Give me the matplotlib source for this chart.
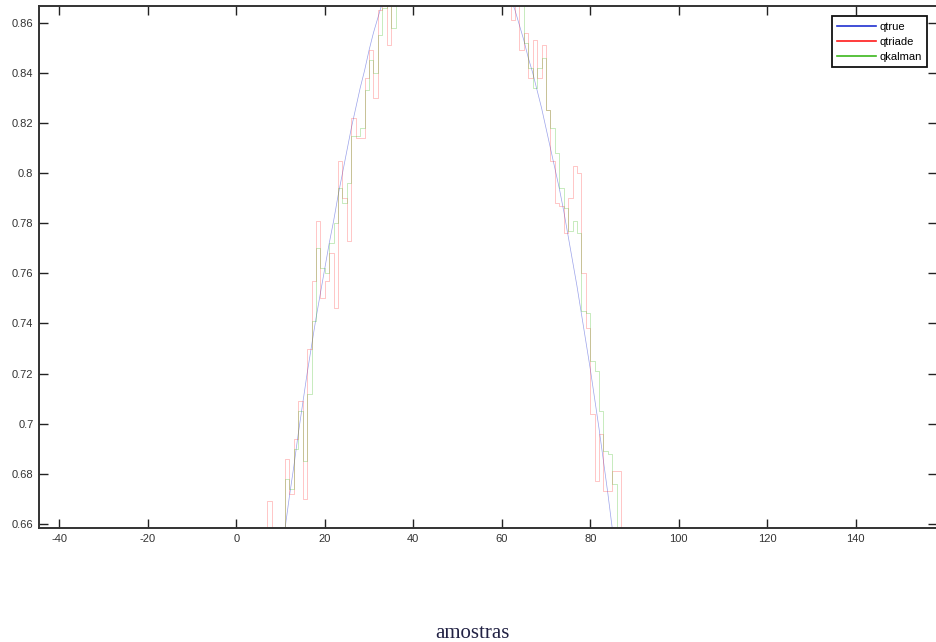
import matplotlib.pyplot as plt
from matplotlib.ticker import FixedLocator, FuncFormatter

# samples shown in the window (rising flank and falling flank)
amostras = list(range(4, 38)) + list(range(60, 93))

qtrue = [
    0.563, 0.577, 0.591, 0.605, 0.619, 0.632, 0.645, 0.658, 0.671, 0.683,
    0.696, 0.708, 0.720, 0.731, 0.742, 0.752, 0.762, 0.772, 0.781, 0.791,
    0.800, 0.809, 0.818, 0.826, 0.834, 0.841, 0.849, 0.856, 0.862, 0.868,
    0.874, 0.880, 0.885, 0.890,
    0.880, 0.875, 0.870, 0.865, 0.859, 0.853, 0.846, 0.840, 0.833, 0.826,
    0.818, 0.810, 0.802, 0.794, 0.785, 0.775, 0.765, 0.755, 0.744, 0.733,
    0.722, 0.710, 0.698, 0.685, 0.672, 0.658, 0.643, 0.628, 0.613, 0.598,
    0.583, 0.568, 0.553,
]

qtriade = [
    0.575, 0.590, 0.600, 0.669, 0.625, 0.635, 0.650, 0.686, 0.672, 0.694,
    0.709, 0.670, 0.730, 0.757, 0.781, 0.750, 0.757, 0.768, 0.746, 0.805,
    0.790, 0.773, 0.822, 0.814, 0.814, 0.838, 0.849, 0.830, 0.865, 0.878,
    0.851, 0.872, 0.885, 0.892,
    0.888, 0.878, 0.861, 0.872, 0.849, 0.856, 0.838, 0.853, 0.838, 0.851,
    0.825, 0.805, 0.788, 0.787, 0.776, 0.790, 0.803, 0.800, 0.760, 0.738,
    0.704, 0.677, 0.696, 0.673, 0.673, 0.681, 0.681, 0.640, 0.620, 0.600,
    0.585, 0.570, 0.555,
]

qkalman = [
    0.560, 0.580, 0.595, 0.610, 0.622, 0.632, 0.645, 0.678, 0.674, 0.690,
    0.705, 0.685, 0.712, 0.741, 0.770, 0.762, 0.760, 0.772, 0.780, 0.794,
    0.788, 0.796, 0.815, 0.815, 0.818, 0.833, 0.845, 0.840, 0.855, 0.866,
    0.874, 0.858, 0.876, 0.888,
    0.890, 0.884, 0.878, 0.872, 0.867, 0.852, 0.842, 0.834, 0.842, 0.846,
    0.825, 0.818, 0.808, 0.794, 0.786, 0.777, 0.781, 0.776, 0.745, 0.744,
    0.725, 0.721, 0.705, 0.689, 0.688, 0.676, 0.655, 0.640, 0.625, 0.610,
    0.595, 0.580, 0.565,
]

xticks = [-40, -20, 0, 20, 40, 60, 80, 100, 120, 140]
yticks = [0.66, 0.68, 0.70, 0.72, 0.74, 0.76, 0.78, 0.80, 0.82, 0.84, 0.86]

plt.rcParams["font.family"] = ["Liberation Sans", "DejaVu Sans"]
plt.rcParams["axes.unicode_minus"] = False

fig = plt.figure(figsize=(9.36, 6.42), dpi=100)
ax = fig.add_axes([0.0417, 0.1776, 0.9594, 0.8131])

ax.plot(amostras, qtrue, color="#2030d0", lw=0.5, alpha=0.45, label="qtrue")
ax.plot(amostras, qtriade, color="#ff1a1a", lw=0.5, alpha=0.35,
        drawstyle="steps-post", label="qtriade")
ax.plot(amostras, qkalman, color="#3cb81c", lw=0.5, alpha=0.4,
        drawstyle="steps-post", label="qkalman")

ax.set_xlim(-44.6, 158.4)
ax.set_ylim(0.6584, 0.8667)
ax.xaxis.set_major_locator(FixedLocator(xticks))
ax.yaxis.set_major_locator(FixedLocator(yticks))
ax.yaxis.set_major_formatter(FuncFormatter(lambda v, p: "%g" % round(v, 2)))

ax.tick_params(direction="in", top=True, right=True, length=6.5, width=1.0,
               labelsize=8, labelcolor="#333333", color="#222222", pad=4)
for s in ax.spines.values():
    s.set_linewidth(1.4)
    s.set_color("#333333")

leg = ax.legend(loc="upper right", bbox_to_anchor=(0.9889, 0.9808),
                borderaxespad=0, fontsize=8, handlelength=3.5,
                handletextpad=0.25, labelspacing=0.45, borderpad=0.5,
                fancybox=False, framealpha=1, edgecolor="#111111")
leg.get_frame().set_linewidth(1.3)
for h in leg.get_lines():
    h.set_alpha(1)
    h.set_linewidth(1.2)

fig.text(472 / 936, 4 / 642, "amostras", ha="center", va="baseline",
         family="Liberation Serif", fontsize=15, color="#222244")

fig.savefig("out.png", dpi=100)
